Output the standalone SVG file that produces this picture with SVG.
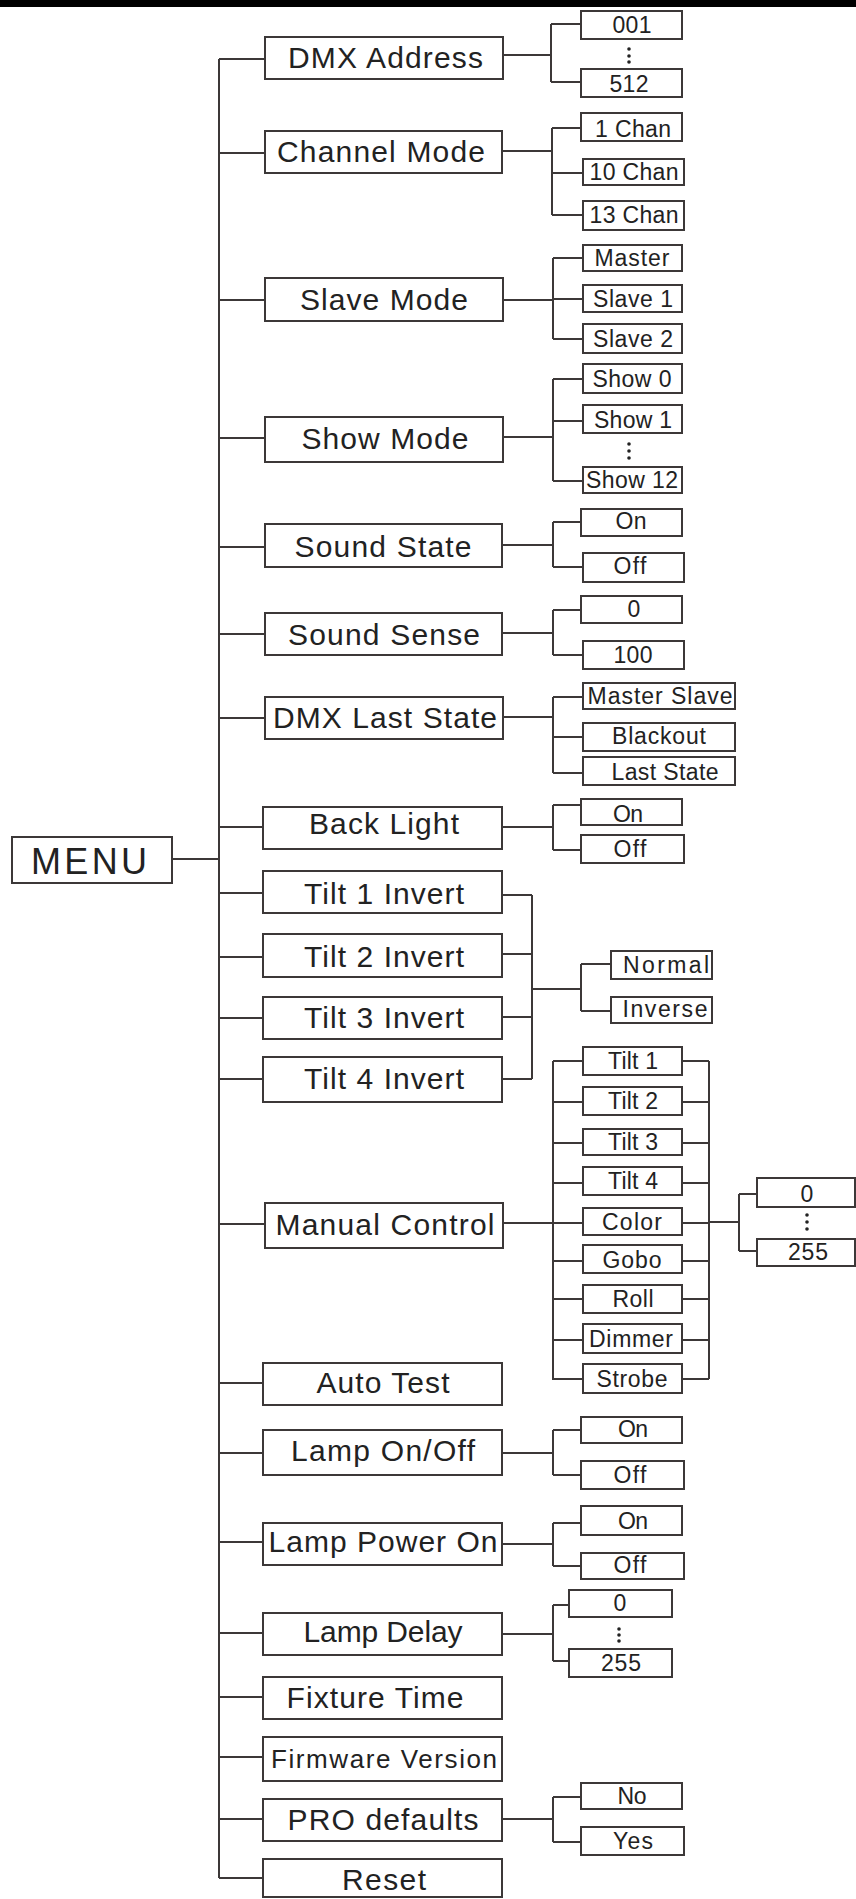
<svg xmlns="http://www.w3.org/2000/svg" width="856" height="1899" viewBox="0 0 856 1899">
<style>
.b{fill:#fff;stroke:#3c3838;stroke-width:2}
.c{stroke:#3c3838;stroke-width:2;fill:none}
.t{font-family:"Liberation Sans",Arial,sans-serif;font-size:30px;fill:#222;text-anchor:middle}
.s{font-size:23px}
.d{fill:#222}
</style>
<rect x="0" y="0" width="856" height="1899" fill="#fff"/>
<rect x="0" y="0" width="856" height="7" fill="#000"/>
<g id="connectors">
<path class="c" d="M219 59V1878"/>
<path class="c" d="M172 859H219"/>
<path class="c" d="M219 59H265M219 153H265M219 300H265M219 438H265M219 547H265M219 634H265M219 718H265M219 827H263M219 893H263M219 957H263M219 1018H263M219 1079H263M219 1224H265M219 1383H263M219 1453H263M219 1542H263M219 1633H263M219 1697H263M219 1757H263M219 1819H263M219 1878H263"/>
<path class="c" d="M503 55H551M551 24V82M551 24H581M551 82H581"/>
<path class="c" d="M502 151H552M552 128V215M552 128H581M552 173H583M552 215H583"/>
<path class="c" d="M503 300H553M553 258V339M553 258H583M553 299H583M553 339H583"/>
<path class="c" d="M503 437H553M553 379V481M553 379H583M553 421H583M553 481H583"/>
<path class="c" d="M502 545H553M553 522V567M553 522H581M553 567H583"/>
<path class="c" d="M502 633H553M553 610V655M553 610H581M553 655H583"/>
<path class="c" d="M503 717H553M553 697V773M553 697H583M553 737H583M553 773H583"/>
<path class="c" d="M502 827H553M553 805V850M553 805H581M553 850H581"/>
<path class="c" d="M502 895H532M502 954H532M502 1017H532M502 1079H532M532 895V1079M532 989H581M581 964V1011M581 964H611M581 1011H611"/>
<path class="c" d="M503 1223H553M553 1061V1380M553 1061H583M553 1102H583M553 1143H583M553 1183H583M553 1223H583M553 1261H583M553 1299H583M553 1340H583M553 1379H583"/>
<path class="c" d="M682 1061H709M682 1102H709M682 1143H709M682 1183H709M682 1223H709M682 1261H709M682 1299H709M682 1340H709M682 1379H709M709 1061V1379M709 1222H739M739 1194V1251M739 1194H757M739 1251H757"/>
<path class="c" d="M502 1453H553M553 1430V1475M553 1430H581M553 1475H581"/>
<path class="c" d="M502 1544H553M553 1523V1566M553 1523H581M553 1566H581"/>
<path class="c" d="M502 1634H553M553 1605V1661M553 1605H569M553 1661H569"/>
<path class="c" d="M502 1819H553M553 1797V1842M553 1797H581M553 1842H581"/>
</g>
<g id="menu"><rect class="b" x="12" y="837" width="160" height="46"/><text class="t" x="89" y="874" style="font-size:36px" textLength="116">MENU</text></g>
<g id="dmx-address"><rect class="b" x="265" y="37" width="238" height="42"/><text class="t" x="385.5" y="68" textLength="195">DMX Address</text></g>
<g id="dmx-001"><rect class="b" x="581" y="11" width="101" height="28"/><text class="t s" x="632" y="33" textLength="39">001</text></g>
<g id="dmx-dots"><circle class="d" cx="629" cy="49" r="1.8"/><circle class="d" cx="629" cy="56" r="1.8"/><circle class="d" cx="629" cy="62" r="1.8"/></g>
<g id="dmx-512"><rect class="b" x="581" y="69" width="101" height="28"/><text class="t s" x="629" y="92" textLength="39">512</text></g>
<g id="channel-mode"><rect class="b" x="265" y="131" width="237" height="42"/><text class="t" x="381" y="162" textLength="208">Channel Mode</text></g>
<g id="ch-1"><rect class="b" x="581" y="113" width="101" height="28"/><text class="t s" x="633" y="137" textLength="76">1 Chan</text></g>
<g id="ch-10"><rect class="b" x="583" y="159" width="101" height="26"/><text class="t s" x="634" y="180" textLength="89">10 Chan</text></g>
<g id="ch-13"><rect class="b" x="583" y="201" width="101" height="29"/><text class="t s" x="634" y="223" textLength="89">13 Chan</text></g>
<g id="slave-mode"><rect class="b" x="265" y="278" width="238" height="43"/><text class="t" x="384" y="310" textLength="168">Slave Mode</text></g>
<g id="sm-master"><rect class="b" x="583" y="245" width="99" height="26"/><text class="t s" x="632" y="266" textLength="75">Master</text></g>
<g id="sm-slave1"><rect class="b" x="583" y="285" width="99" height="27"/><text class="t s" x="633" y="307" textLength="80">Slave 1</text></g>
<g id="sm-slave2"><rect class="b" x="583" y="324" width="99" height="29"/><text class="t s" x="633" y="347" textLength="80">Slave 2</text></g>
<g id="show-mode"><rect class="b" x="265" y="417" width="238" height="45"/><text class="t" x="385" y="449" textLength="167">Show Mode</text></g>
<g id="show-0"><rect class="b" x="583" y="364" width="99" height="29"/><text class="t s" x="632" y="387" textLength="79">Show 0</text></g>
<g id="show-1"><rect class="b" x="583" y="405" width="99" height="28"/><text class="t s" x="633" y="428" textLength="78">Show 1</text></g>
<g id="show-dots"><circle class="d" cx="629" cy="444" r="1.8"/><circle class="d" cx="629" cy="451" r="1.8"/><circle class="d" cx="629" cy="458" r="1.8"/></g>
<g id="show-12"><rect class="b" x="583" y="467" width="99" height="26"/><text class="t s" x="632" y="488" textLength="92">Show 12</text></g>
<g id="sound-state"><rect class="b" x="265" y="524" width="237" height="43"/><text class="t" x="383" y="557" textLength="177">Sound State</text></g>
<g id="ss-on"><rect class="b" x="581" y="509" width="101" height="27"/><text class="t s" x="631" y="529" textLength="31">On</text></g>
<g id="ss-off"><rect class="b" x="583" y="553" width="101" height="29"/><text class="t s" x="630" y="574" textLength="33">Off</text></g>
<g id="sound-sense"><rect class="b" x="265" y="613" width="237" height="42"/><text class="t" x="384" y="645" textLength="192">Sound Sense</text></g>
<g id="sense-0"><rect class="b" x="581" y="596" width="101" height="27"/><text class="t s" x="634" y="617">0</text></g>
<g id="sense-100"><rect class="b" x="583" y="641" width="101" height="28"/><text class="t s" x="633" y="663" textLength="39">100</text></g>
<g id="dmx-last-state"><rect class="b" x="265" y="697" width="238" height="42"/><text class="t" x="385" y="728" textLength="224">DMX Last State</text></g>
<g id="dls-master-slave"><rect class="b" x="583" y="683" width="152" height="26"/><text class="t s" x="660" y="704" textLength="145">Master Slave</text></g>
<g id="dls-blackout"><rect class="b" x="583" y="723" width="152" height="28"/><text class="t s" x="659" y="744" textLength="94">Blackout</text></g>
<g id="dls-last-state"><rect class="b" x="583" y="757" width="152" height="28"/><text class="t s" x="665" y="780" textLength="107">Last State</text></g>
<g id="back-light"><rect class="b" x="263" y="807" width="239" height="42"/><text class="t" x="384" y="834" textLength="150">Back Light</text></g>
<g id="bl-on"><rect class="b" x="581" y="799" width="101" height="26"/><text class="t s" x="628" y="822" textLength="30">On</text></g>
<g id="bl-off"><rect class="b" x="581" y="835" width="103" height="28"/><text class="t s" x="630" y="857" textLength="33">Off</text></g>
<g id="tilt1-invert"><rect class="b" x="263" y="871" width="239" height="42"/><text class="t" x="384" y="904" textLength="160">Tilt 1 Invert</text></g>
<g id="tilt2-invert"><rect class="b" x="263" y="934" width="239" height="43"/><text class="t" x="384" y="967" textLength="160">Tilt 2 Invert</text></g>
<g id="tilt3-invert"><rect class="b" x="263" y="997" width="239" height="42"/><text class="t" x="384" y="1028" textLength="160">Tilt 3 Invert</text></g>
<g id="tilt4-invert"><rect class="b" x="263" y="1057" width="239" height="45"/><text class="t" x="384" y="1089" textLength="160">Tilt 4 Invert</text></g>
<g id="inv-normal"><rect class="b" x="611" y="951" width="101" height="28"/><text class="t s" x="666" y="973" textLength="86">Normal</text></g>
<g id="inv-inverse"><rect class="b" x="611" y="997" width="101" height="26"/><text class="t s" x="665" y="1017" textLength="85">Inverse</text></g>
<g id="manual-control"><rect class="b" x="265" y="1203" width="238" height="45"/><text class="t" x="385" y="1235" textLength="219">Manual Control</text></g>
<g id="mc-tilt1"><rect class="b" x="583" y="1047" width="99" height="28"/><text class="t s" x="633" y="1069" textLength="50">Tilt 1</text></g>
<g id="mc-tilt2"><rect class="b" x="583" y="1087" width="99" height="28"/><text class="t s" x="633" y="1109" textLength="50">Tilt 2</text></g>
<g id="mc-tilt3"><rect class="b" x="583" y="1129" width="99" height="26"/><text class="t s" x="633" y="1150" textLength="50">Tilt 3</text></g>
<g id="mc-tilt4"><rect class="b" x="583" y="1167" width="99" height="28"/><text class="t s" x="633" y="1189" textLength="50">Tilt 4</text></g>
<g id="mc-color"><rect class="b" x="583" y="1208" width="99" height="27"/><text class="t s" x="632" y="1230" textLength="60">Color</text></g>
<g id="mc-gobo"><rect class="b" x="583" y="1245" width="99" height="28"/><text class="t s" x="632" y="1268" textLength="59">Gobo</text></g>
<g id="mc-roll"><rect class="b" x="583" y="1285" width="99" height="28"/><text class="t s" x="633" y="1307" textLength="41">Roll</text></g>
<g id="mc-dimmer"><rect class="b" x="583" y="1324" width="99" height="29"/><text class="t s" x="631" y="1347" textLength="84">Dimmer</text></g>
<g id="mc-strobe"><rect class="b" x="583" y="1364" width="99" height="29"/><text class="t s" x="632" y="1387" textLength="71">Strobe</text></g>
<g id="mc-0"><rect class="b" x="757" y="1178" width="98" height="29"/><text class="t s" x="807" y="1202">0</text></g>
<g id="mc-dots"><circle class="d" cx="807" cy="1215" r="1.8"/><circle class="d" cx="807" cy="1222" r="1.8"/><circle class="d" cx="807" cy="1229" r="1.8"/></g>
<g id="mc-255"><rect class="b" x="757" y="1239" width="98" height="27"/><text class="t s" x="808" y="1260" textLength="40">255</text></g>
<g id="auto-test"><rect class="b" x="263" y="1363" width="239" height="42"/><text class="t" x="383" y="1393" textLength="133">Auto Test</text></g>
<g id="lamp-onoff"><rect class="b" x="263" y="1430" width="239" height="45"/><text class="t" x="383" y="1461" textLength="184">Lamp On/Off</text></g>
<g id="lo-on"><rect class="b" x="581" y="1417" width="101" height="26"/><text class="t s" x="633" y="1437" textLength="30">On</text></g>
<g id="lo-off"><rect class="b" x="581" y="1461" width="103" height="28"/><text class="t s" x="630" y="1483" textLength="33">Off</text></g>
<g id="lamp-power-on"><rect class="b" x="263" y="1523" width="239" height="42"/><text class="t" x="383" y="1552" textLength="229">Lamp Power On</text></g>
<g id="lp-on"><rect class="b" x="581" y="1506" width="101" height="29"/><text class="t s" x="633" y="1529" textLength="30">On</text></g>
<g id="lp-off"><rect class="b" x="581" y="1553" width="103" height="26"/><text class="t s" x="630" y="1573" textLength="33">Off</text></g>
<g id="lamp-delay"><rect class="b" x="263" y="1613" width="239" height="42"/><text class="t" x="383" y="1642" textLength="159">Lamp Delay</text></g>
<g id="ld-0"><rect class="b" x="569" y="1590" width="103" height="27"/><text class="t s" x="620" y="1611">0</text></g>
<g id="ld-dots"><circle class="d" cx="619" cy="1629" r="1.8"/><circle class="d" cx="619" cy="1635" r="1.8"/><circle class="d" cx="619" cy="1641" r="1.8"/></g>
<g id="ld-255"><rect class="b" x="569" y="1649" width="103" height="28"/><text class="t s" x="621" y="1671" textLength="40">255</text></g>
<g id="fixture-time"><rect class="b" x="263" y="1677" width="239" height="42"/><text class="t" x="375" y="1708" textLength="177">Fixture Time</text></g>
<g id="firmware-version"><rect class="b" x="263" y="1737" width="239" height="44"/><text class="t" x="384" y="1768" style="font-size:26px" textLength="226">Firmware Version</text></g>
<g id="pro-defaults"><rect class="b" x="263" y="1799" width="239" height="42"/><text class="t" x="383" y="1830" textLength="191">PRO defaults</text></g>
<g id="pd-no"><rect class="b" x="581" y="1783" width="101" height="26"/><text class="t s" x="632" y="1804" textLength="29">No</text></g>
<g id="pd-yes"><rect class="b" x="581" y="1827" width="103" height="28"/><text class="t s" x="633" y="1849" textLength="40">Yes</text></g>
<g id="reset"><rect class="b" x="263" y="1859" width="239" height="38"/><text class="t" x="384" y="1890" textLength="84">Reset</text></g>
</svg>
